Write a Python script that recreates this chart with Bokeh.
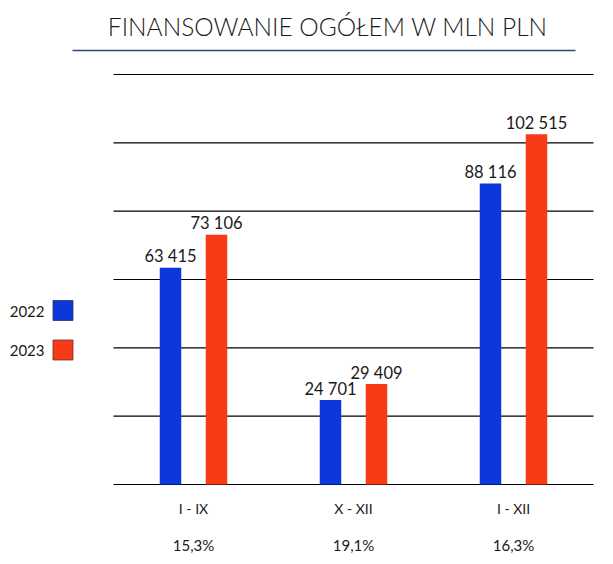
from bokeh.plotting import figure
from bokeh.models import Range1d
from bokeh.core.properties import value
from bokeh.embed import file_html
from bokeh.resources import INLINE
import numpy as np

# ---- data ----
categories = ["I - IX", "X - XII", "I - XII"]
series_names = ["2022", "2023"]
values_2022 = [63415, 24701, 88116]
values_2023 = [73106, 29409, 102515]
growth_labels = ["15,3%", "19,1%", "16,3%"]
y_ticks = [0, 20000, 40000, 60000, 80000, 100000, 120000]
title_text = "FINANSOWANIE OGÓŁEM W MLN PLN"

# ---- layout constants (pixels) ----
W, H = 597, 556
CAT_PX = 160.0          # pixels per category band
X0_PX = 193.0           # x pixel of first category centre
AXIS_PX = 484.0         # y pixel (from top) of value 0
TICK_PX = 68.33         # pixels per 20000
UPP = 20000.0 / TICK_PX  # value units per pixel

def xd(px):
    return (px - X0_PX) / CAT_PX

def yd(py):
    return (AXIS_PX - py) * UPP

BLUE = "#0C37DA"
RED = "#F73B16"
TXT = "#1a1a1a"
FONT = value("Lato")

p = figure(width=W, height=H, output_backend="svg", toolbar_location=None,
           x_range=Range1d(xd(0), xd(W)), y_range=Range1d(yd(H), yd(0)),
           min_border=0, outline_line_color=None)
p.axis.visible = False
p.grid.visible = False
p.background_fill_color = "white"
p.border_fill_color = "white"

n = len(categories)
idx = np.arange(n)

# gridlines
p.segment(x0=[-0.5] * len(y_ticks), x1=[n - 0.5] * len(y_ticks),
          y0=y_ticks, y1=y_ticks, line_color="black", line_width=1.2)

# bars
off = 23.0 / CAT_PX
bw = 21.5 / CAT_PX
p.vbar(x=idx - off, top=values_2022, width=bw, bottom=0, fill_color=BLUE, line_color=None)
p.vbar(x=idx + off, top=values_2023, width=bw, bottom=0, fill_color=RED, line_color=None)

fmt = lambda v: f"{v:,}".replace(",", " ")
p.text(x=idx - off, y=values_2022, text=[fmt(v) for v in values_2022],
       text_align="center", text_baseline="alphabetic", y_offset=-11.5,
       text_font=FONT, text_font_size="16.5px", text_color=TXT)
p.text(x=idx + off, y=values_2023, text=[fmt(v) for v in values_2023],
       text_align="center", text_baseline="alphabetic", y_offset=-11.5,
       text_font=FONT, text_font_size="16.5px", text_color=TXT)

# category labels & growth
p.text(x=idx, y=[yd(508)] * n, text=categories, text_align="center",
       text_baseline="middle", text_font=FONT, text_font_size="14px", text_color=TXT)
p.text(x=idx, y=[yd(544)] * n, text=growth_labels, text_align="center",
       text_baseline="middle", text_font=FONT, text_font_size="15px", text_color=TXT)

# title
p.text(x=[xd(327.5)], y=[yd(26)], text=[title_text], text_align="center",
       text_baseline="middle", text_font=value("Lato Light, Lato"),
       text_font_size="24.5px", text_color=TXT)
p.segment(x0=[xd(72)], x1=[xd(575)], y0=[yd(50)], y1=[yd(50)],
          line_color="#2E4A7A", line_width=1.5)

# legend
p.scatter(x=[xd(62.5)] * 2, y=[yd(310), yd(349.5)], marker="square", size=20,
          fill_color=[BLUE, RED], line_color=["#333366", "#663333"], line_width=0.8)
p.text(x=[xd(44)] * 2, y=[yd(311), yd(350)], text=series_names, text_align="right",
       text_baseline="middle", text_font=FONT, text_font_size="15px", text_color=TXT)

open("out.html", "w").write(file_html(p, INLINE))
